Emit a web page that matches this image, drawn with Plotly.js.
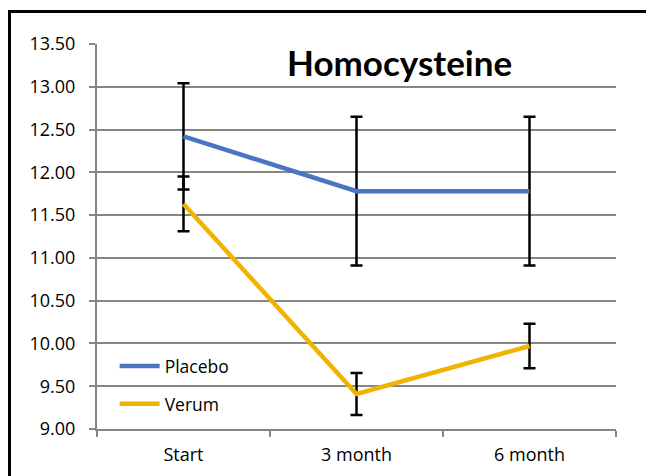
<!DOCTYPE html>
<html><head><meta charset="utf-8">
<script src="https://cdn.plot.ly/plotly-3.0.1.min.js"></script>
<style>html,body{margin:0;padding:0;background:#fff;overflow:hidden}#wrap{position:relative;width:646px;height:476px;overflow:hidden}#chart{width:646px;height:476px}#frame{position:absolute;left:8px;top:10px;width:800px;height:600px;border-left:3px solid #000;border-top:3px solid #000;pointer-events:none}</style>
</head><body><div id="wrap"><div id="chart"></div><div id="frame"></div></div>
<script>
var categories = ["Start", "3 month", "6 month"];
var placebo = [12.42, 11.78, 11.78];
var placeboErr = [0.62, 0.87, 0.87];
var verum = [11.63, 9.41, 9.97];
var verumErr = [0.32, 0.245, 0.26];
var yTicks = [9, 9.5, 10, 10.5, 11, 11.5, 12, 12.5, 13, 13.5];

var font = "'Open Sans', Lato, sans-serif";
var titleFont = "Lato, 'Open Sans', sans-serif";
var errStyle = {type: "data", visible: true, color: "#000", thickness: 2.5, width: 6};

var traces = [
  {x: categories, y: placebo, name: "Placebo", type: "scatter", mode: "lines",
   line: {color: "#4A74C4", width: 4.5}, legendgroup: "p",
   error_y: Object.assign({array: placeboErr}, errStyle)},
  {x: categories, y: verum, name: "Verum", type: "scatter", mode: "lines",
   line: {color: "#F2B300", width: 4.5}, legendgroup: "v",
   error_y: Object.assign({array: verumErr}, errStyle)}
];

var layout = {
  width: 646, height: 476,
  margin: {l: 97, r: 30, t: 44, b: 47},
  paper_bgcolor: "#fff", plot_bgcolor: "#fff",
  font: {family: font, size: 17.5, color: "#000"},
  title: {text: "<b>Homocysteine</b>", font: {family: titleFont, size: 35, color: "#000"},
          xref: "paper", x: 0.583, xanchor: "center", yref: "container", y: 0.866, yanchor: "middle"},
  xaxis: {type: "category", range: [-0.5, 2.5], showgrid: false, showline: true,
          linecolor: "#868686", linewidth: 2, ticks: "outside", tickson: "boundaries",
          ticklen: 6, tickwidth: 2, tickcolor: "#868686", tickfont: {size: 18},
          ticklabelstandoff: 8},
  yaxis: {range: [9, 13.5], tickvals: yTicks, tickformat: ".2f", showgrid: true,
          gridcolor: "#868686", gridwidth: 2, showline: true, linecolor: "#868686", linewidth: 2,
          ticks: "outside", ticklen: 6, tickwidth: 2, tickcolor: "#868686", zeroline: false,
          tickfont: {size: 18}, ticklabelstandoff: 10},
  showlegend: true,
  legend: {x: 0.034, y: 0.114, xanchor: "left", yanchor: "middle", bgcolor: "rgba(0,0,0,0)",
           traceorder: "grouped", tracegroupgap: 12, itemwidth: 40, font: {size: 17.5}}
};

Plotly.newPlot("chart", traces, layout, {displayModeBar: false, staticPlot: true});
</script></body></html>
